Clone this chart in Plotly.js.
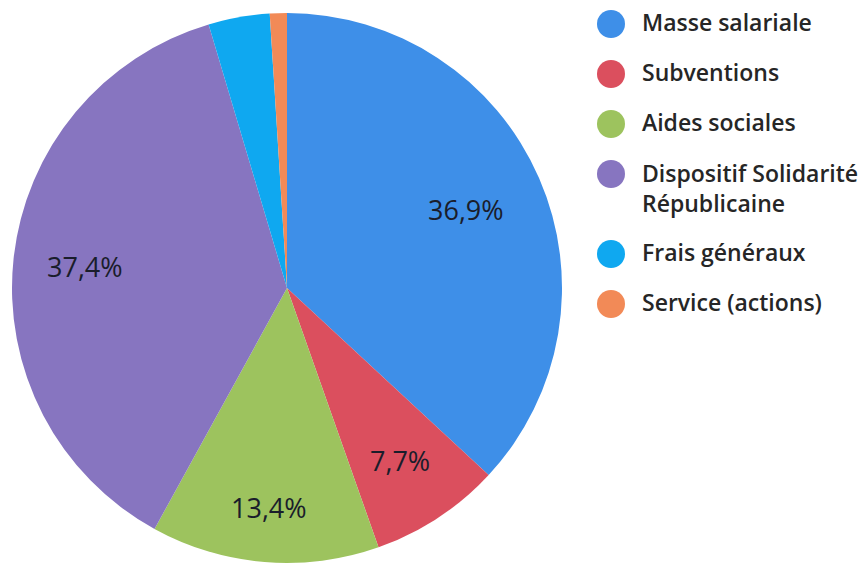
<!DOCTYPE html>
<html><head><meta charset="utf-8">
<script src="https://cdn.plot.ly/plotly-3.0.1.min.js"></script>
<style>html,body{margin:0;padding:0;background:#fff;}</style>
</head><body>
<div id="chart" style="width:866px;height:564px;"></div>
<script>
const categories = ["Masse salariale", "Subventions", "Aides sociales", "Dispositif Solidarité<br>Républicaine", "Frais généraux", "Service (actions)"];
const values = [36.9, 7.7, 13.4, 37.4, 3.6, 1.0];
const showLabel = [true, true, true, true, false, false];
const colors = ["#3e8fe8", "#db4f5e", "#9dc35e", "#8775c0", "#0fa8f0", "#f28a57"];

// layout constants (positions / styles)
const W = 866, H = 564;
const cx = 287, cy = 288, R = 275;
const labelRadius = [0.71, 0.75, 0.80, 0.74, 0.7, 0.7];
const FONT = "'Open Sans', Lato, sans-serif";

const pie = {
  type: "pie",
  labels: categories,
  values: values,
  sort: false,
  direction: "clockwise",
  rotation: 0,
  marker: {colors: colors, line: {width: 0}},
  textinfo: "none",
  hoverinfo: "label+percent",
  showlegend: false,
  domain: {x: [(cx - R) / W, (cx + R) / W], y: [(H - cy - R) / H, (H - cy + R) / H]}
};

const shapes = [], annotations = [];

// percentage labels placed at each slice's mid-angle
const total = values.reduce((a, b) => a + b, 0);
let cum = 0;
values.forEach((v, i) => {
  const mid = (cum + v / 2) / total * 2 * Math.PI;
  cum += v;
  if (!showLabel[i]) return;
  const r = R * labelRadius[i];
  const px = cx + r * Math.sin(mid), py = cy - r * Math.cos(mid);
  const pct = (v / total * 100).toFixed(1).replace(".", ",") + "%";
  annotations.push({xref: "paper", yref: "paper", x: px / W, y: (H - py) / H,
    xanchor: "center", yanchor: "middle", showarrow: false, text: pct,
    font: {family: FONT, size: 27, weight: 500, color: "#1a1d2b"}});
});

// legend with circular markers
let y = 24;
categories.forEach((c, i) => {
  const lines = c.split("<br>").length;
  const r = 14;
  shapes.push({type: "circle", xref: "paper", yref: "paper",
    x0: (611 - r) / W, x1: (611 + r) / W, y0: (H - y - r) / H, y1: (H - y + r) / H,
    fillcolor: colors[i], line: {width: 0}});
  annotations.push({xref: "paper", yref: "paper", x: 640 / W,
    y: lines > 1 ? (H - y + 19) / H : (H - y + 2) / H,
    xanchor: "left", yanchor: lines > 1 ? "top" : "middle", align: "left", showarrow: false, text: c,
    font: {family: FONT, size: 23, weight: 600, color: "#262626"}});
  y += lines > 1 ? 80 : 50;
});

const layout = {
  width: W, height: H,
  margin: {l: 0, r: 0, t: 0, b: 0},
  paper_bgcolor: "#fff",
  separators: ", ",
  showlegend: false,
  shapes: shapes,
  annotations: annotations
};
Plotly.newPlot("chart", [pie], layout, {displayModeBar: false, staticPlot: true});
</script>
</body></html>
